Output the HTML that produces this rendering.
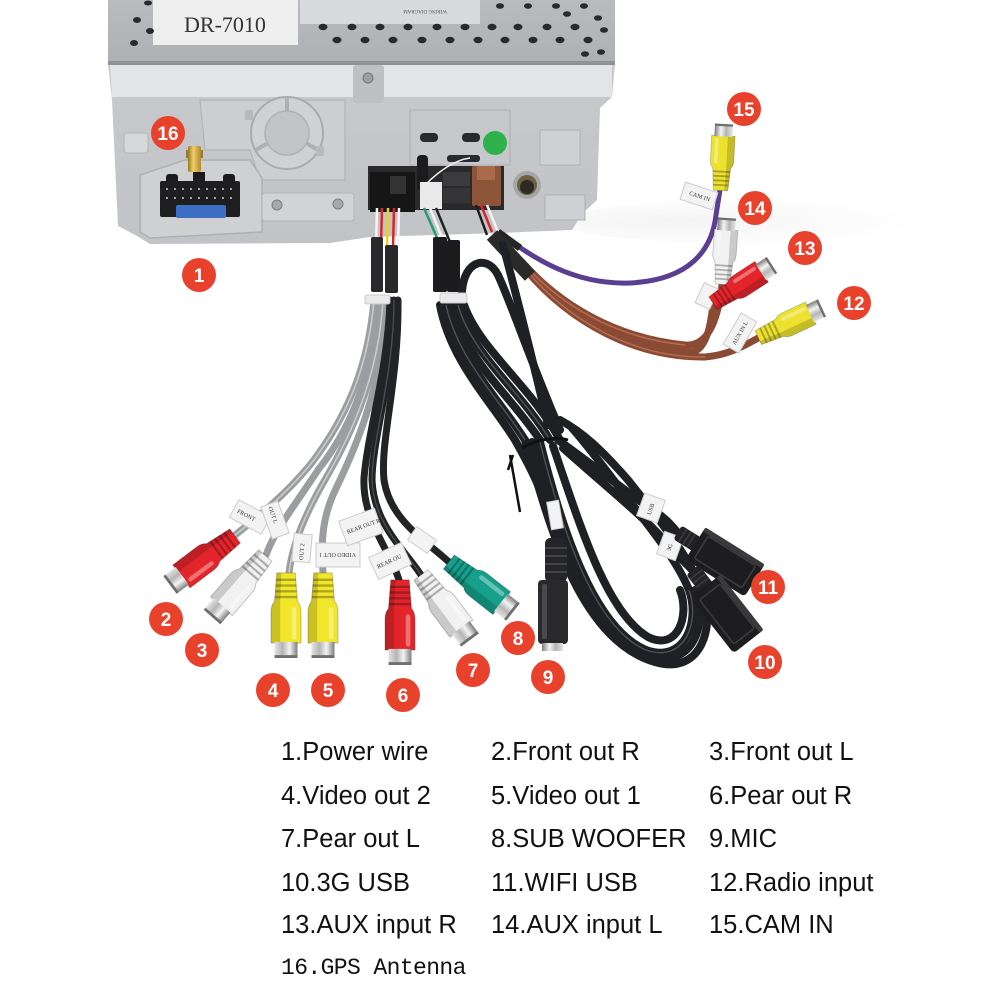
<!DOCTYPE html>
<html><head><meta charset="utf-8">
<style>
html,body{margin:0;padding:0;background:#fff;}
svg{display:block;}
</style></head><body>
<svg width="1000" height="1000" viewBox="0 0 1000 1000" xmlns="http://www.w3.org/2000/svg">
<defs>
 <linearGradient id="metal" x1="0" x2="1" y1="0" y2="0">
  <stop offset="0" stop-color="#7d7d7d"/><stop offset=".35" stop-color="#f4f4f4"/><stop offset=".65" stop-color="#b5b5b5"/><stop offset="1" stop-color="#e5e5e5"/>
 </linearGradient>
 <linearGradient id="cover" x1="0" y1="0" x2="0" y2="1">
  <stop offset="0" stop-color="#b9bbbe"/><stop offset="1" stop-color="#aeb0b4"/>
 </linearGradient>
 <linearGradient id="panel" x1="0" y1="0" x2="0" y2="1">
  <stop offset="0" stop-color="#cacbce"/><stop offset="1" stop-color="#c2c3c6"/>
 </linearGradient>
 <linearGradient id="gold" x1="0" x2="1">
  <stop offset="0" stop-color="#9a7420"/><stop offset=".4" stop-color="#f0cf6a"/><stop offset="1" stop-color="#b08a2a"/>
 </linearGradient>
 <radialGradient id="shadow" cx=".3" cy=".5" r=".6">
  <stop offset="0" stop-color="#ececec"/><stop offset="1" stop-color="#ffffff"/>
 </radialGradient>
 <g id="rca">
  <path d="M-13,13 L13,13 L13,40 Q13,46 10,49 L8,74 L-8,74 L-10,49 Q-13,46 -13,40Z" fill="currentColor" stroke="#000" stroke-opacity=".2" stroke-width="1"/>
  <path d="M5,13 L13,13 L13,40 Q13,46 10,49 L8,74 L4,74 L5,49Z" fill="#000" opacity=".16"/>
  <rect x="-9" y="16" width="4" height="28" rx="2" fill="#fff" opacity=".35"/>
  <path d="M-9.5,53h19M-9.2,58h18.4M-8.9,63h17.8M-8.6,68h17.2" stroke="#000" stroke-opacity=".28" stroke-width="2"/>
  <rect x="-10" y="0" width="20" height="14" fill="url(#metal)"/>
  <rect x="-10" y="0" width="20" height="2.5" fill="#6f6f6f"/>
 </g>
 <g id="usb">
  <rect x="-56" y="-8" width="24" height="16" rx="3" fill="#232325"/>
  <path d="M-50,-8v16M-45,-8v16M-40,-8v16" stroke="#3c3c3e" stroke-width="1.5"/>
  <rect x="-35" y="-19" width="70" height="38" rx="4" fill="#1d1d1f"/>
  <rect x="-28" y="-13" width="56" height="26" rx="2" fill="none" stroke="#3d3d40" stroke-width="1.5"/>
  <rect x="-35" y="-19" width="70" height="5" rx="2" fill="#3a3a3d"/>
 </g>
</defs>

<!-- faint shadows -->
<ellipse cx="760" cy="222" rx="200" ry="22" fill="url(#shadow)" opacity=".6"/>

<!-- ===== DEVICE ===== -->
<path d="M108,0 L615,0 L615,64 L612,97 L600,108 L597,200 L582,214 L572,230 L500,233 L370,237 L330,243 L150,244 L137,236 L118,226 L112,100 L108,64Z" fill="url(#panel)"/>
<rect x="108" y="0" width="507" height="63" fill="url(#cover)"/>
<rect x="108" y="61" width="507" height="4" fill="#8f9195"/>
<path d="M110,65 L612,65 L612,97 L112,97Z" fill="#e3e4e6"/>
<rect x="353" y="65" width="31" height="38" rx="3" fill="#bfc0c3"/>
<circle cx="368" cy="78" r="5" fill="#9c9ea1" stroke="#777" stroke-width="1"/>
<!-- stickers -->
<rect x="300" y="0" width="180" height="24" fill="#d9dadc"/>
<text x="447" y="14" font-family="Liberation Serif, serif" font-size="5" fill="#555" transform="rotate(180 447 12)">WIRING DIAGRAM</text>
<rect x="153" y="0" width="145" height="45" fill="#efefef"/>
<text x="225" y="32" font-family="Liberation Serif, serif" font-size="22" fill="#333" text-anchor="middle">DR-7010</text>
<!-- holes -->
<g fill="#2a2a2c">
 <ellipse cx="323" cy="27" rx="4.5" ry="3.2"/><ellipse cx="352" cy="27" rx="4.5" ry="3.2"/><ellipse cx="380" cy="27" rx="4.5" ry="3.2"/><ellipse cx="408" cy="27" rx="4.5" ry="3.2"/><ellipse cx="437" cy="27" rx="4.5" ry="3.2"/><ellipse cx="465" cy="27" rx="4.5" ry="3.2"/><ellipse cx="492" cy="27" rx="4.5" ry="3.2"/><ellipse cx="518" cy="27" rx="4.5" ry="3.2"/><ellipse cx="547" cy="27" rx="4.5" ry="3.2"/><ellipse cx="575" cy="27" rx="4.5" ry="3.2"/>
 <ellipse cx="337" cy="40" rx="4.5" ry="3.2"/><ellipse cx="365" cy="40" rx="4.5" ry="3.2"/><ellipse cx="393" cy="40" rx="4.5" ry="3.2"/><ellipse cx="422" cy="40" rx="4.5" ry="3.2"/><ellipse cx="450" cy="40" rx="4.5" ry="3.2"/><ellipse cx="478" cy="40" rx="4.5" ry="3.2"/><ellipse cx="505" cy="40" rx="4.5" ry="3.2"/><ellipse cx="533" cy="40" rx="4.5" ry="3.2"/><ellipse cx="560" cy="40" rx="4.5" ry="3.2"/><ellipse cx="588" cy="40" rx="4.5" ry="3.2"/>
 <ellipse cx="500" cy="6" rx="4" ry="2.8"/><ellipse cx="528" cy="6" rx="4" ry="2.8"/><ellipse cx="556" cy="6" rx="4" ry="2.8"/><ellipse cx="584" cy="6" rx="4" ry="2.8"/>
 <ellipse cx="567" cy="14" rx="4" ry="2.8"/><ellipse cx="598" cy="18" rx="4" ry="2.8"/><ellipse cx="604" cy="30" rx="4" ry="2.8"/><ellipse cx="601" cy="52" rx="4" ry="2.8"/><ellipse cx="585" cy="54" rx="4" ry="2.8"/>
 <ellipse cx="137" cy="20" rx="4" ry="3"/><ellipse cx="150" cy="31" rx="4" ry="3"/><ellipse cx="134" cy="43" rx="4" ry="3"/><ellipse cx="148" cy="3" rx="4" ry="2.5"/>
</g>
<!-- panel details -->
<path d="M200,100 L345,100 L345,180 L260,180 L250,150 L205,150 Z" fill="#cdced1" stroke="#b2b4b7" stroke-width="1.2"/>
<circle cx="287" cy="133" r="36" fill="#d0d1d4" stroke="#a9abae" stroke-width="2"/>
<circle cx="287" cy="133" r="22" fill="#c3c4c7" stroke="#b0b2b5" stroke-width="1.5"/>
<path d="M287,97 v14 M256,150 l12,-7 M318,150 l-12,-7" stroke="#aeb0b3" stroke-width="4"/>
<rect x="245" y="110" width="8" height="10" rx="2" fill="#b7b9bc"/>
<rect x="316" y="146" width="8" height="10" rx="2" fill="#b7b9bc"/>
<rect x="124" y="133" width="24" height="20" rx="3" fill="#d6d7d9" stroke="#b3b5b8"/>
<path d="M140,175 L185,160 L250,160 L262,178 L262,232 L150,238 L140,232Z" fill="#cfd0d2" stroke="#aeb0b3" stroke-width="1.5"/>
<rect x="262" y="193" width="92" height="28" rx="3" fill="#d2d3d5" stroke="#b1b3b6"/>
<circle cx="277" cy="205" r="5" fill="#a7a9ac" stroke="#7b7d80"/>
<circle cx="338" cy="204" r="5" fill="#a7a9ac" stroke="#7b7d80"/>
<!-- GPS gold -->
<rect x="186" y="150" width="17" height="8" fill="#8f7a4a"/>
<rect x="188" y="146" width="13" height="26" rx="2" fill="url(#gold)"/>
<!-- power connector -->
<rect x="166" y="174" width="12" height="10" rx="3" fill="#1c1c1c"/>
<rect x="193" y="172" width="12" height="12" fill="#1c1c1c"/>
<rect x="223" y="174" width="12" height="10" rx="3" fill="#1c1c1c"/>
<rect x="160" y="181" width="80" height="36" rx="2" fill="#1e1e20"/>
<g fill="#cfcfcf">
 <circle cx="167" cy="189" r="1"/><circle cx="175" cy="189" r="1"/><circle cx="183" cy="189" r="1"/><circle cx="191" cy="189" r="1"/><circle cx="199" cy="189" r="1"/><circle cx="207" cy="189" r="1"/><circle cx="215" cy="189" r="1"/><circle cx="223" cy="189" r="1"/><circle cx="231" cy="189" r="1"/>
 <circle cx="167" cy="198" r="1"/><circle cx="175" cy="198" r="1"/><circle cx="183" cy="198" r="1"/><circle cx="191" cy="198" r="1"/><circle cx="199" cy="198" r="1"/><circle cx="207" cy="198" r="1"/><circle cx="215" cy="198" r="1"/><circle cx="223" cy="198" r="1"/><circle cx="231" cy="198" r="1"/>
</g>
<rect x="176" y="205" width="50" height="13" rx="2" fill="#3d6fc4"/>
<!-- center connector area -->
<rect x="410" y="110" width="100" height="55" fill="#c6c7ca" stroke="#adafb2"/>
<rect x="420" y="133" width="18" height="9" rx="4" fill="#2a2a2c"/>
<rect x="462" y="133" width="18" height="9" rx="4" fill="#2a2a2c"/>
<rect x="447" y="155" width="33" height="7" rx="3" fill="#2a2a2c"/>
<circle cx="495" cy="143" r="12" fill="#2eb24b"/>
<rect x="368" y="166" width="136" height="44" fill="#2a2a2c"/>
<rect x="370" y="172" width="45" height="40" fill="#161617"/>
<rect x="390" y="176" width="16" height="18" fill="#333"/>
<rect x="417" y="155" width="11" height="35" rx="4" fill="#1c1c1c"/>
<rect x="420" y="182" width="22" height="27" fill="#e9e9e9"/>
<path d="M425,185 C440,170 455,160 470,158" stroke="#eee" stroke-width="1.5" fill="none"/>
<rect x="443" y="172" width="27" height="14" fill="#3b3b3e"/>
<rect x="443" y="188" width="27" height="15" fill="#353538"/>
<rect x="472" y="166" width="29" height="40" rx="2" fill="#8c5538"/>
<rect x="477" y="166" width="18" height="14" fill="#a86a4a"/>
<circle cx="527" cy="185" r="14" fill="#a6a7aa"/>
<circle cx="527" cy="185" r="10" fill="#6d623f"/>
<circle cx="527" cy="187" r="7" fill="#2c2a24"/>
<rect x="540" y="130" width="40" height="35" fill="#cfd0d3" stroke="#aeb0b3"/>
<rect x="545" y="195" width="40" height="25" fill="#cfd0d3" stroke="#aeb0b3"/>
<!-- wires out of connectors -->
<g stroke-width="2.5" fill="none">
 <path d="M377,208 L376,245" stroke="#f4f4f4"/>
 <path d="M382,208 L381,245" stroke="#d8262a"/>
 <path d="M388,208 L387,248" stroke="#e7d12a"/>
 <path d="M394,208 L393,248" stroke="#d8262a"/>
 <path d="M399,208 L398,248" stroke="#f4f4f4"/>
 <path d="M424,208 L438,240" stroke="#23a06a"/>
 <path d="M430,208 L443,240" stroke="#f4f4f4"/>
 <path d="M436,208 L450,242" stroke="#222"/>
 <path d="M481,205 L492,232" stroke="#d8262a"/>
 <path d="M487,205 L498,232" stroke="#f4f4f4"/>
 <path d="M476,205 L487,235" stroke="#1d1d1d"/>
</g>

<!-- ===== PURPLE & BROWN ===== -->
<path d="M498,232 C530,255 570,285 630,283 C690,280 712,250 716,215 L720,190" fill="none" stroke="#5a3e92" stroke-width="5"/>
<path d="M498,232 L520,248" stroke="#252525" stroke-width="7"/>
<g fill="none" stroke-linecap="round">
 <path d="M522,262 C560,305 615,338 685,345 C708,347 718,320 722,285" stroke="#8a4a34" stroke-width="7"/>
 <path d="M524,266 C565,312 625,347 690,352 C706,352 711,325 713,303" stroke="#8a4a34" stroke-width="7"/>
 <path d="M526,270 C570,322 635,358 705,357 C730,355 745,345 760,337" stroke="#8a4a34" stroke-width="7"/>
 <path d="M522,262 C560,305 615,338 685,345" stroke="#b56d53" stroke-width="1.5"/>
 <path d="M526,270 C570,322 635,358 705,357" stroke="#b56d53" stroke-width="1.5"/>
</g>
<path d="M492,235 L530,276" stroke="#2a2a2a" stroke-width="14"/>

<!-- ===== LEFT GROUP CABLES ===== -->
<rect x="371" y="237" width="12" height="55" rx="2" fill="#29292b"/>
<rect x="385" y="245" width="13" height="48" rx="2" fill="#29292b"/>
<g fill="none" stroke-linecap="round">
 <g stroke="#9b9da0" stroke-width="7">
  <path d="M374,300 C368,370 345,420 310,465 C285,495 260,515 234,536"/>
  <path d="M379,300 C373,375 350,430 318,470 C295,505 275,530 266,555"/>
  <path d="M383,300 C378,385 345,445 322,485 C305,515 292,545 289,573"/>
  <path d="M388,300 C383,390 352,455 333,495 C320,525 322,550 323,573"/>
 </g>
 <g stroke="#c9cacc" stroke-width="1.6">
  <path d="M374,300 C368,370 345,420 310,465 C285,495 260,515 234,536"/>
  <path d="M383,300 C378,385 345,445 322,485 C305,515 292,545 289,573"/>
 </g>
 <g stroke="#222325" stroke-width="7">
  <path d="M390,300 C388,370 368,430 364,478 C362,520 390,550 399,580"/>
  <path d="M394,300 C394,375 372,440 372,480 C374,525 405,550 421,575"/>
  <path d="M398,300 C399,380 380,440 384,480 C390,520 425,540 449,562"/>
 </g>
 <g stroke="#4c4d51" stroke-width="1.3">
  <path d="M394,300 C394,375 372,440 372,480 C374,525 405,550 421,575"/>
 </g>
</g>
<rect x="365" y="295" width="25" height="9" rx="2" fill="#eaeaea" stroke="#c8c8c8"/>

<!-- ===== RIGHT BUNDLE ===== -->
<rect x="433" y="237" width="14" height="55" rx="2" fill="#1c1c1e"/>
<rect x="447" y="240" width="13" height="52" rx="2" fill="#1c1c1e"/>
<g fill="none" stroke="#1f2023" stroke-width="8" stroke-linecap="round">
 <path d="M462,300 C460,262 486,252 498,275 C512,305 530,360 560,430"/>
 <path d="M503,245 C515,290 528,340 548,425"/>
 <path d="M440,305 C450,360 490,400 515,440 C532,470 545,495 556,540"/>
 <path d="M446,305 C458,360 500,400 525,440"/>
 <path d="M452,305 C465,360 510,395 540,440"/>
 <path d="M458,305 C472,355 520,390 550,440"/>
 <path d="M464,305 C480,350 530,385 560,440"/>
 <path d="M525,440 C548,520 578,640 655,662 C702,676 716,625 702,590 C690,560 668,530 628,480 C600,448 582,432 560,420"/>
 <path d="M540,442 C562,530 594,628 646,650 C686,664 700,620 689,590 C679,565 660,540 625,495 C602,465 588,446 572,428"/>
 <path d="M553,446 C580,525 606,612 648,637 C678,652 690,615 680,590"/>
 <path d="M532,442 C556,525 586,634 650,656 C694,669 708,622 695,590"/>
 <path d="M558,440 C600,470 630,495 650,508 C666,518 672,526 678,533"/>
 <path d="M563,448 C610,490 648,520 668,545 C680,558 688,565 693,571"/>
</g>
<g fill="none" stroke="#505156" stroke-width="1.4">
 <path d="M446,305 C458,360 500,400 525,440"/>
 <path d="M540,442 C562,530 594,628 646,650 C686,664 700,620 689,590"/>
 <path d="M458,305 C472,355 520,390 550,440"/>
</g>
<rect x="440" y="293" width="27" height="10" rx="2" fill="#eaeaea" stroke="#c8c8c8"/>
<!-- zip tie lower -->
<path d="M522,448 C535,440 555,436 568,440" stroke="#111" stroke-width="3" fill="none"/>
<path d="M513,455 L508,470 M510,455 L520,512" stroke="#111" stroke-width="2.5" fill="none"/>

<!-- ===== TAGS ===== -->
<g font-family="Liberation Serif, serif" font-size="6" fill="#333">
 <g transform="translate(699,196) rotate(18)"><rect x="-17" y="-9" width="34" height="18" fill="#f3f3f3" stroke="#ccc"/><text x="-10" y="2">CAM IN</text></g>
 <g transform="translate(707,296) rotate(25)"><rect x="-8" y="-11" width="16" height="22" fill="#f3f3f3" stroke="#ccc"/></g>
 <g transform="translate(740,333) rotate(-60)"><rect x="-18" y="-9" width="36" height="18" fill="#f3f3f3" stroke="#ccc"/><text x="-13" y="2">AUX IN L</text></g>
 <g transform="translate(250,517) rotate(28)"><rect x="-18" y="-10" width="36" height="20" fill="#f3f3f3" stroke="#ccc"/><text x="-14" y="2">FRONT</text></g>
 <g transform="translate(275,520) rotate(70)"><rect x="-17" y="-9" width="34" height="18" fill="#f3f3f3" stroke="#ccc"/><text x="-14" y="2">OUT L</text></g>
 <g transform="translate(302,548) rotate(-85)"><rect x="-14" y="-9" width="28" height="18" fill="#f3f3f3" stroke="#ccc"/><text x="-12" y="2">OUT 2</text></g>
 <g transform="translate(338,555) rotate(180)"><rect x="-22" y="-12" width="44" height="24" fill="#f3f3f3" stroke="#ccc"/><text x="-18" y="2">VIDEO OUT 1</text></g>
 <g transform="translate(361,527) rotate(-20)"><rect x="-19" y="-13" width="38" height="26" fill="#f3f3f3" stroke="#ccc"/><text x="-15" y="2">REAR OUT R</text></g>
 <g transform="translate(390,561) rotate(-25)"><rect x="-18" y="-12" width="36" height="24" fill="#f3f3f3" stroke="#ccc"/><text x="-14" y="2">REAR OU</text></g>
 <g transform="translate(422,540) rotate(35)"><rect x="-12" y="-8" width="24" height="16" fill="#f3f3f3" stroke="#ccc"/></g>
 <g transform="translate(555,515) rotate(80)"><rect x="-14" y="-6" width="28" height="12" fill="#f3f3f3" stroke="#ccc"/></g>
 <g transform="translate(651,508) rotate(-70)"><rect x="-12" y="-11" width="24" height="22" fill="#f3f3f3" stroke="#ccc"/><text x="-7" y="2">USB</text></g>
 <g transform="translate(670,546) rotate(-70)"><rect x="-12" y="-10" width="24" height="20" fill="#f3f3f3" stroke="#ccc"/><text x="-5" y="2">3G</text></g>
</g>

<!-- ===== CONNECTORS ===== -->
<use href="#rca" color="#ece12f" transform="translate(724,124) rotate(3) scale(.9)"/>
<use href="#rca" color="#f1f1f1" transform="translate(727,218) rotate(4) scale(.9)"/>
<use href="#rca" color="#e3252b" transform="translate(772,265) rotate(57) scale(.95)"/>
<use href="#rca" color="#ece12f" transform="translate(822,308) rotate(65) scale(.95)"/>

<use href="#rca" color="#e3252b" transform="translate(170,585) rotate(-127) scale(1.1)"/>
<use href="#rca" color="#f1f1f1" transform="translate(212,617) rotate(-139) scale(1.1)"/>
<use href="#rca" color="#f2e62a" transform="translate(286,658) rotate(180) scale(1.15)"/>
<use href="#rca" color="#f2e62a" transform="translate(323,658) rotate(180) scale(1.15)"/>
<use href="#rca" color="#e3252b" transform="translate(400,665) rotate(180) scale(1.15)"/>
<use href="#rca" color="#f1f1f1" transform="translate(470,640) rotate(143) scale(1.1)"/>
<use href="#rca" color="#16a08c" transform="translate(513,612) rotate(128) scale(1.1)"/>

<!-- MIC -->
<rect x="545" y="538" width="22" height="44" rx="5" fill="#26262a"/>
<path d="M545,548h22M545,556h22M545,564h22M545,572h22" stroke="#444448" stroke-width="2"/>
<rect x="538" y="580" width="30" height="64" rx="4" fill="#2a2a2d"/>
<rect x="542" y="584" width="5" height="55" rx="2" fill="#4a4a4e"/>
<rect x="542" y="643" width="21" height="8" fill="url(#metal)"/>

<!-- USB -->
<use href="#usb" transform="translate(725,562) rotate(32)"/>
<use href="#usb" transform="translate(727,614) rotate(52)"/>

<!-- ===== BADGES ===== -->
<g font-family="Liberation Sans, sans-serif" font-weight="bold" font-size="19" fill="#fff" text-anchor="middle">
 <circle cx="168" cy="133" r="17" fill="#e8412c"/><text x="168" y="140">16</text>
 <circle cx="199" cy="275" r="17" fill="#e8412c"/><text x="199" y="282">1</text>
 <circle cx="744" cy="109" r="17" fill="#e8412c"/><text x="744" y="116">15</text>
 <circle cx="755" cy="208" r="17" fill="#e8412c"/><text x="755" y="215">14</text>
 <circle cx="805" cy="248" r="17" fill="#e8412c"/><text x="805" y="255">13</text>
 <circle cx="854" cy="303" r="17" fill="#e8412c"/><text x="854" y="310">12</text>
 <circle cx="166" cy="619" r="17" fill="#e8412c"/><text x="166" y="626">2</text>
 <circle cx="202" cy="650" r="17" fill="#e8412c"/><text x="202" y="657">3</text>
 <circle cx="273" cy="690" r="17" fill="#e8412c"/><text x="273" y="697">4</text>
 <circle cx="328" cy="690" r="17" fill="#e8412c"/><text x="328" y="697">5</text>
 <circle cx="403" cy="695" r="17" fill="#e8412c"/><text x="403" y="702">6</text>
 <circle cx="473" cy="670" r="17" fill="#e8412c"/><text x="473" y="677">7</text>
 <circle cx="518" cy="638" r="17" fill="#e8412c"/><text x="518" y="645">8</text>
 <circle cx="548" cy="677" r="17" fill="#e8412c"/><text x="548" y="684">9</text>
 <circle cx="768" cy="587" r="17" fill="#e8412c"/><text x="768" y="594">11</text>
 <circle cx="765" cy="662" r="17" fill="#e8412c"/><text x="765" y="669">10</text>
</g>

<!-- ===== LEGEND ===== -->
<g font-family="Liberation Sans, sans-serif" font-size="25.5" fill="#111">
 <text x="281" y="760">1.Power wire</text>
 <text x="491" y="760">2.Front out R</text>
 <text x="709" y="760">3.Front out L</text>
 <text x="281" y="804">4.Video out 2</text>
 <text x="491" y="804">5.Video out 1</text>
 <text x="709" y="804">6.Pear out R</text>
 <text x="281" y="847">7.Pear out L</text>
 <text x="491" y="847">8.SUB WOOFER</text>
 <text x="709" y="847">9.MIC</text>
 <text x="281" y="891">10.3G USB</text>
 <text x="491" y="891">11.WIFI USB</text>
 <text x="709" y="891">12.Radio input</text>
 <text x="281" y="933">13.AUX input R</text>
 <text x="491" y="933">14.AUX input L</text>
 <text x="709" y="933">15.CAM IN</text>
</g>
<text x="281" y="974" font-family="Liberation Mono, monospace" font-size="23" letter-spacing="-0.6" fill="#111">16.GPS Antenna</text>
</svg>
</body></html>
